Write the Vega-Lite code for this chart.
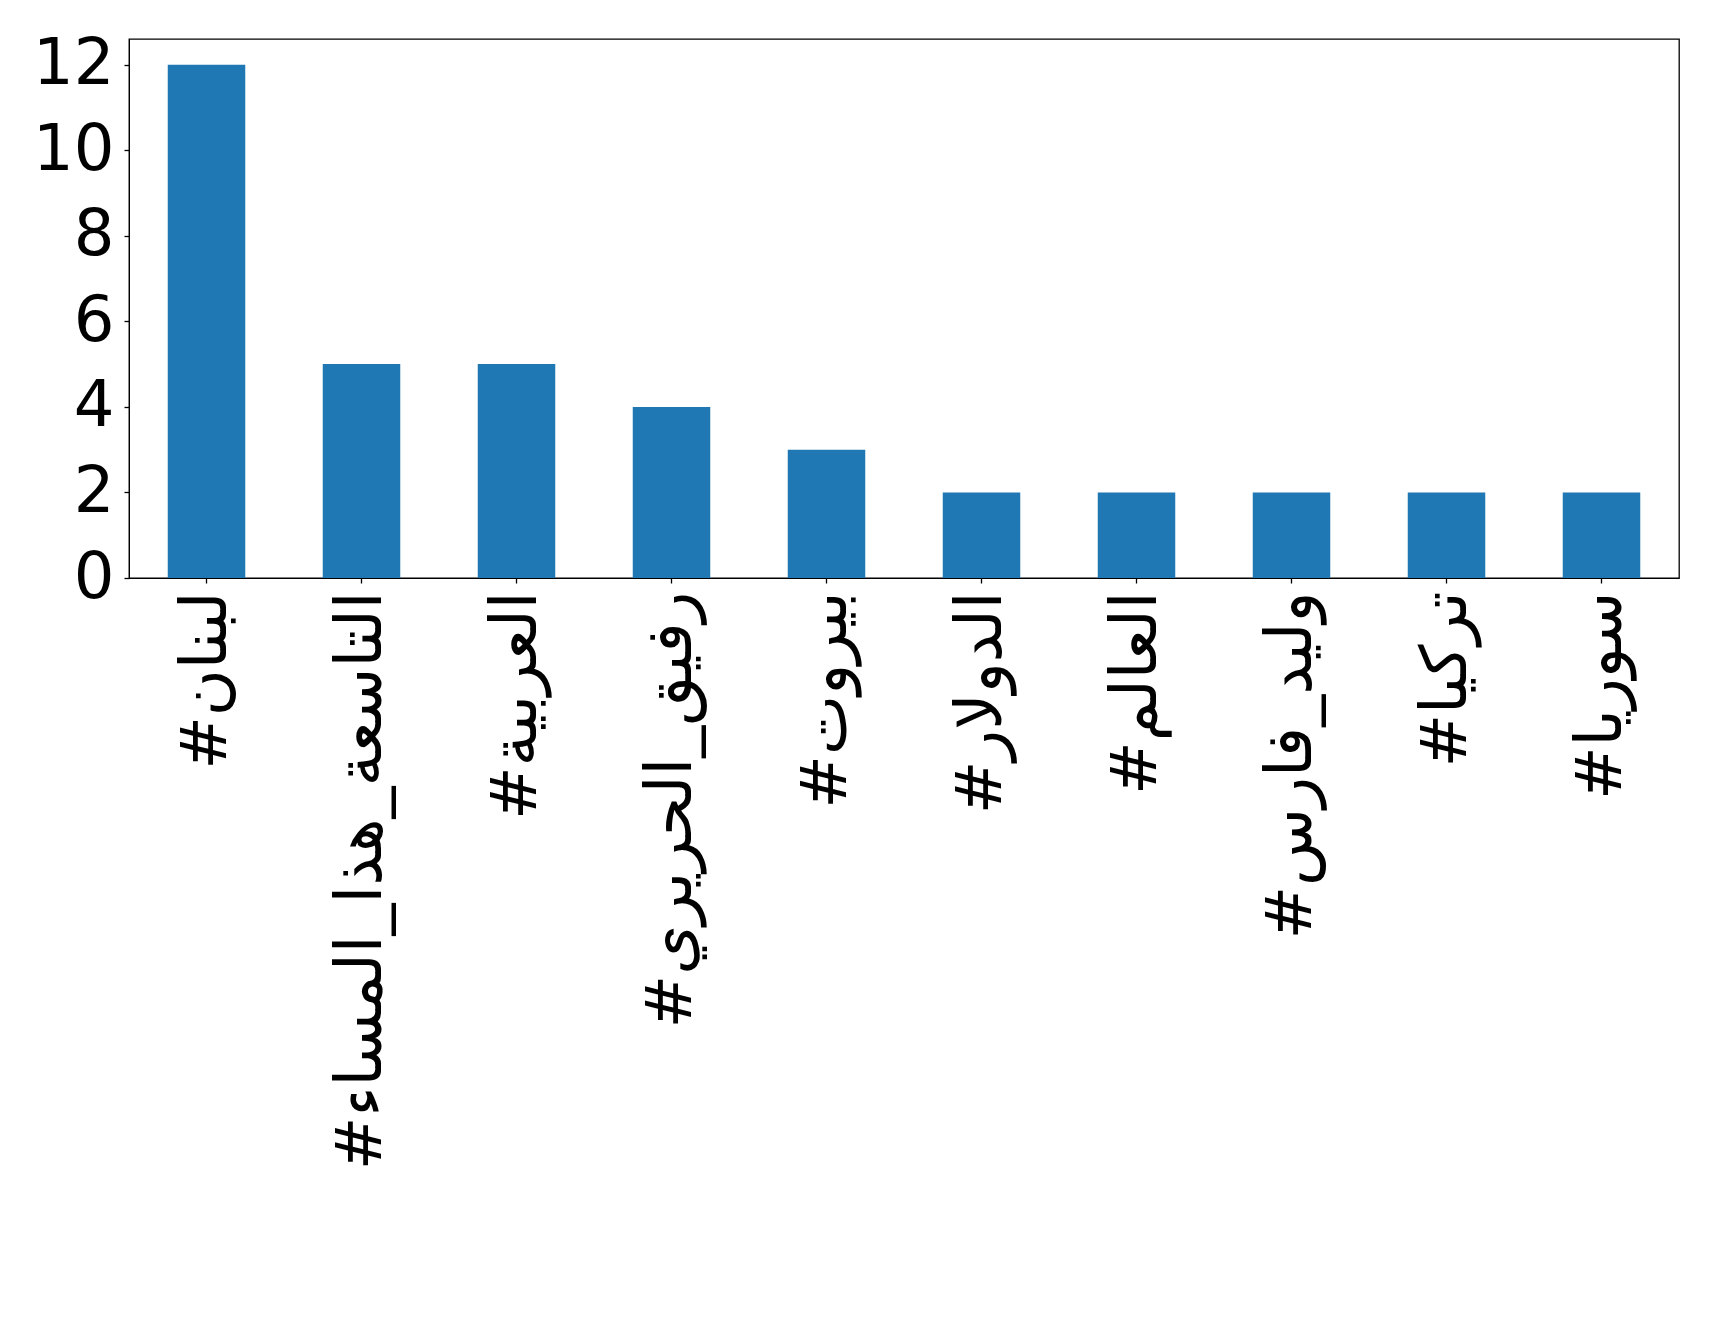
{
  "$schema": "https://vega.github.io/schema/vega-lite/v6.json",
  "autosize": {"type": "none"},
  "width": 1550,
  "height": 539,
  "padding": {"left": 129, "top": 39, "right": 40, "bottom": 753},
  "background": "white",
  "data": {
    "values": [
      {"tag": "#لبنان", "count": 12},
      {"tag": "#التاسعة_هذا_المساء", "count": 5},
      {"tag": "#العربية", "count": 5},
      {"tag": "#رفيق_الحريري", "count": 4},
      {"tag": "#بيروت", "count": 3},
      {"tag": "#الدولار", "count": 2},
      {"tag": "#العالم", "count": 2},
      {"tag": "#وليد_فارس", "count": 2},
      {"tag": "#تركيا", "count": 2},
      {"tag": "#سوريا", "count": 2}
    ]
  },
  "config": {
    "font": "DejaVu Sans",
    "view": {"stroke": "black", "strokeWidth": 1.3},
    "axis": {
      "grid": false,
      "domainColor": "black",
      "tickColor": "black",
      "tickSize": 5,
      "tickWidth": 1.3,
      "labelColor": "black",
      "labelFont": "DejaVu Sans",
      "labelFontSize": 64,
      "title": null
    }
  },
  "mark": {"type": "bar", "color": "#1f77b4"},
  "encoding": {
    "x": {
      "field": "tag",
      "type": "nominal",
      "sort": null,
      "scale": {"paddingInner": 0.5, "paddingOuter": 0.25},
      "axis": {
        "labelAngle": -90,
        "labelAlign": "right",
        "labelBaseline": "middle",
        "labelPadding": 8,
        "labelLimit": 0,
        "title": null
      }
    },
    "y": {
      "field": "count",
      "type": "quantitative",
      "scale": {"domain": [0, 12.6], "nice": false, "zero": true},
      "axis": {
        "values": [0, 2, 4, 6, 8, 10, 12],
        "labelPadding": 10,
        "title": null
      }
    }
  }
}
